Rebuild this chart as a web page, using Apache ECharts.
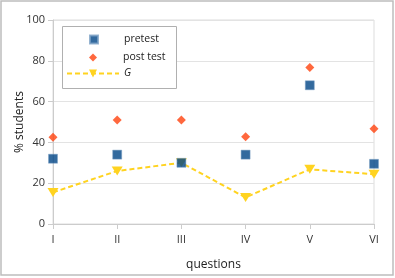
<!DOCTYPE html>
<html><head><meta charset="utf-8">
<script src="https://cdn.jsdelivr.net/npm/echarts@6/dist/echarts.min.js"></script>
<style>html,body{margin:0;padding:0;background:#fff}#c{width:395px;height:278px}</style>
</head><body><div id="c"></div>
<script>
const categories = ['I','II','III','IV','V','VI'];
const pretest = [32, 34, 30, 34, 68, 29.5];
const posttest = [42.5, 51, 51, 42.8, 76.7, 46.7];
const gain = [15.5, 26, 30, 13, 26.8, 24.4];
const yTicks = [0, 20, 40, 60, 80, 100];

const font = 'Open Sans';
const txt = '#222';
const legendText = {fontFamily: font, fontSize: 10.5, color: txt};
const chart = echarts.init(document.getElementById('c'), null, {renderer:'canvas'});
chart.setOption({
  animation: false,
  textStyle: {fontFamily: font},
  grid: {left: 53, right: 21, top: 20, bottom: 54, outerBoundsMode: 'none', containLabel: false,
    show: true, borderColor: '#dddddd', borderWidth: 1},
  graphic: [
    {type:'rect', shape:{x:1, y:1, width:392, height:274}, style:{fill:'none', stroke:'#bdbdbd', lineWidth:1.5}, silent:true, z: 100},
    {type:'rect', shape:{x:62.5, y:26.5, width:114, height:62}, style:{fill:'#fff', stroke:'#b0b0b0', lineWidth:1}, silent:true, z: 5}
  ],
  legend: [
    {left: 89, top: 34, padding: 0, itemWidth: 8, itemHeight: 8, z: 10,
      textStyle: Object.assign({padding:[0,0,0,21]}, legendText), data: ['pretest']},
    {left: 89, top: 52, padding: 0, itemWidth: 8, itemHeight: 8, z: 10,
      textStyle: Object.assign({padding:[0,0,0,21]}, legendText), data: ['post test']},
    {left: 66, top: 68, padding: 0, itemWidth: 52, itemHeight: 10, z: 10,
      textStyle: Object.assign({padding:[0,0,0,0], fontStyle:'italic'}, legendText), data: ['G']}
  ],
  xAxis: {
    type: 'category', data: categories, boundaryGap: false,
    name: 'questions', nameLocation: 'middle', nameGap: 35, nameMoveOverlap: false,
    nameTextStyle: {fontFamily: font, fontSize: 12, color: txt},
    axisLine: {show: true, lineStyle: {color: '#cccccc'}},
    axisTick: {show: true, alignWithLabel: true, length: 5, lineStyle: {color: '#cccccc'}},
    axisLabel: {fontFamily: font, fontSize: 11, color: '#333', margin: 10},
    splitLine: {show: false}
  },
  yAxis: {
    type: 'value', min: 0, max: 100, interval: 20,
    name: '% students', nameLocation: 'middle', nameGap: 27, nameRotate: 90, nameMoveOverlap: false,
    nameTextStyle: {fontFamily: font, fontSize: 12, color: txt},
    axisLine: {show: true, lineStyle: {color: '#cccccc'}},
    axisTick: {show: true, length: 5, lineStyle: {color: '#cccccc'}},
    axisLabel: {fontFamily: font, fontSize: 11, color: '#333', margin: 8,
      formatter: v => yTicks.includes(v) ? String(v) : ''},
    splitLine: {show: true, lineStyle: {color: '#e3e3e3'}}
  },
  series: [
    {name: 'G', type: 'line', data: gain, z: 2,
      symbol: 'triangle', symbolRotate: 180, symbolSize: [11, 9],
      itemStyle: {color: '#ffd320'},
      lineStyle: {color: '#ffd320', width: 2, type: [5, 3]}},
    {name: 'pretest', type: 'scatter', data: pretest, z: 3,
      symbol: 'rect', symbolSize: 9,
      itemStyle: {color: '#004586', borderColor: '#7aa0c4', borderWidth: 0.6}},
    {name: 'post test', type: 'scatter', data: posttest, z: 4,
      symbol: 'diamond', symbolSize: 9,
      itemStyle: {color: '#ff420e'}}
  ]
});
</script></body></html>
